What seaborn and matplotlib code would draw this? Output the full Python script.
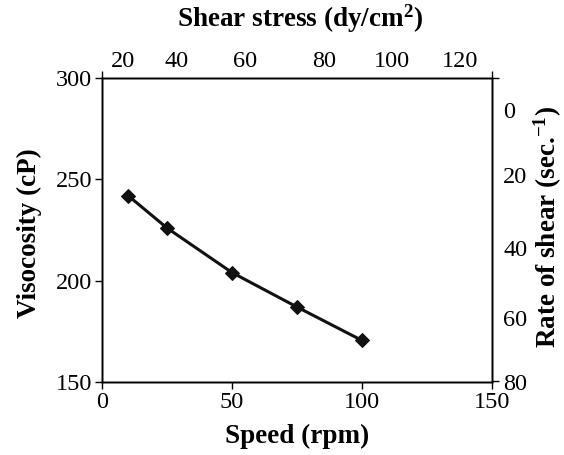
import matplotlib
matplotlib.use("Agg")
import matplotlib.pyplot as plt
import seaborn as sns
import pandas as pd

# Data
speed_rpm = [10, 25, 50, 75, 100]
viscosity_cp = [242, 226, 204, 187, 170.5]

bottom_ticks = [0, 50, 100, 150]
left_ticks = [150, 200, 250, 300]
shear_stress_labels = ["20", "40", "60", "80", "100", "120"]
rate_of_shear_labels = ["0", "20", "40", "60", "80"]

# Layout (positions of the secondary-axis labels, in primary-axis units)
top_label_pos = [8.0, 28.7, 55.0, 85.6, 111.4, 137.8]
right_label_pos = [284.2, 252.1, 215.6, 181.1, 149.5]

sns.set_theme(style="white")
plt.rcParams["font.family"] = ["Liberation Serif", "DejaVu Serif"]
plt.rcParams["mathtext.fontset"] = "custom"
plt.rcParams["mathtext.rm"] = "Liberation Serif"
plt.rcParams["mathtext.bf"] = "Liberation Serif:bold"
plt.rcParams["mathtext.it"] = "Liberation Serif:italic"
plt.rcParams["text.color"] = "black"
plt.rcParams["axes.labelcolor"] = "black"
plt.rcParams["xtick.color"] = "black"
plt.rcParams["ytick.color"] = "black"

df = pd.DataFrame({"Speed": speed_rpm, "Viscosity": viscosity_cp})

fig = plt.figure(figsize=(5.64, 4.55), dpi=100)
ax = fig.add_axes([102 / 564, 1 - 382 / 455, 390 / 564, 304 / 455])

sns.lineplot(data=df, x="Speed", y="Viscosity", ax=ax, color="#111111",
             linewidth=2.2, marker="D", markersize=7,
             markeredgecolor="#111111", markerfacecolor="#111111")

tick_fs = 17.5
label_fs = 19.5

ax.set_xlim(0, 150)
ax.set_ylim(150, 300)
ax.set_xticks(bottom_ticks)
ax.set_yticks(left_ticks)
ax.tick_params(axis="both", which="major", direction="out", length=5, width=1,
               color="black", labelsize=tick_fs, labelcolor="black", pad=2,
               bottom=True, left=True)
for s in ax.spines.values():
    s.set_color("black")
    s.set_linewidth(1.0)

ax.set_xlabel("Speed (rpm)", fontsize=label_fs, fontweight="bold", color="black")
ax.set_ylabel("Visocosity (cP)", fontsize=label_fs, fontweight="bold", color="black")
ax.xaxis.set_label_coords(0.5, (382 - 436) / 304)
ax.xaxis.label.set_va("center")
ax.yaxis.set_label_coords((29 - 102) / 390, 0.49)
ax.yaxis.label.set_va("center")

# Top axis: shear stress
axt = ax.twiny()
axt.set_xlim(0, 150)
axt.set_xticks([0, 150])
axt.set_xticklabels(["", ""])
axt.set_xticks(top_label_pos, minor=True)
axt.set_xticklabels(shear_stress_labels, minor=True)
axt.tick_params(axis="x", which="major", direction="out", length=5, width=1,
                color="black", top=True)
axt.tick_params(axis="x", which="minor", length=0, labelsize=tick_fs,
                labelcolor="black", pad=4, top=True)
axt.set_xlabel(r"Shear stress (dy/cm$^{\mathbf{2}}$)", fontsize=label_fs,
               fontweight="bold", color="black")
axt.xaxis.set_label_coords((300 - 102) / 390, (382 - 19) / 304)
axt.xaxis.label.set_va("center")

# Right axis: rate of shear
axr = ax.twinx()
axr.set_ylim(150, 300)
axr.set_yticks([150, 300])
axr.set_yticklabels(["", ""])
axr.set_yticks(right_label_pos, minor=True)
axr.set_yticklabels(rate_of_shear_labels, minor=True)
axr.tick_params(axis="y", which="major", direction="out", length=5, width=1,
                color="black", right=True)
axr.tick_params(axis="y", which="minor", length=0, labelsize=tick_fs,
                labelcolor="black", pad=8, right=True)
axr.set_ylabel(r"Rate of shear (sec.$^{\mathbf{-1}}$)", fontsize=label_fs,
               fontweight="bold", color="black")
axr.yaxis.set_label_coords((548 - 102) / 390, 0.51)
axr.yaxis.label.set_va("center")

for a in (axt, axr):
    for s in a.spines.values():
        s.set_color("black")
        s.set_linewidth(1.0)

fig.savefig("out.png", dpi=100, facecolor="white")
